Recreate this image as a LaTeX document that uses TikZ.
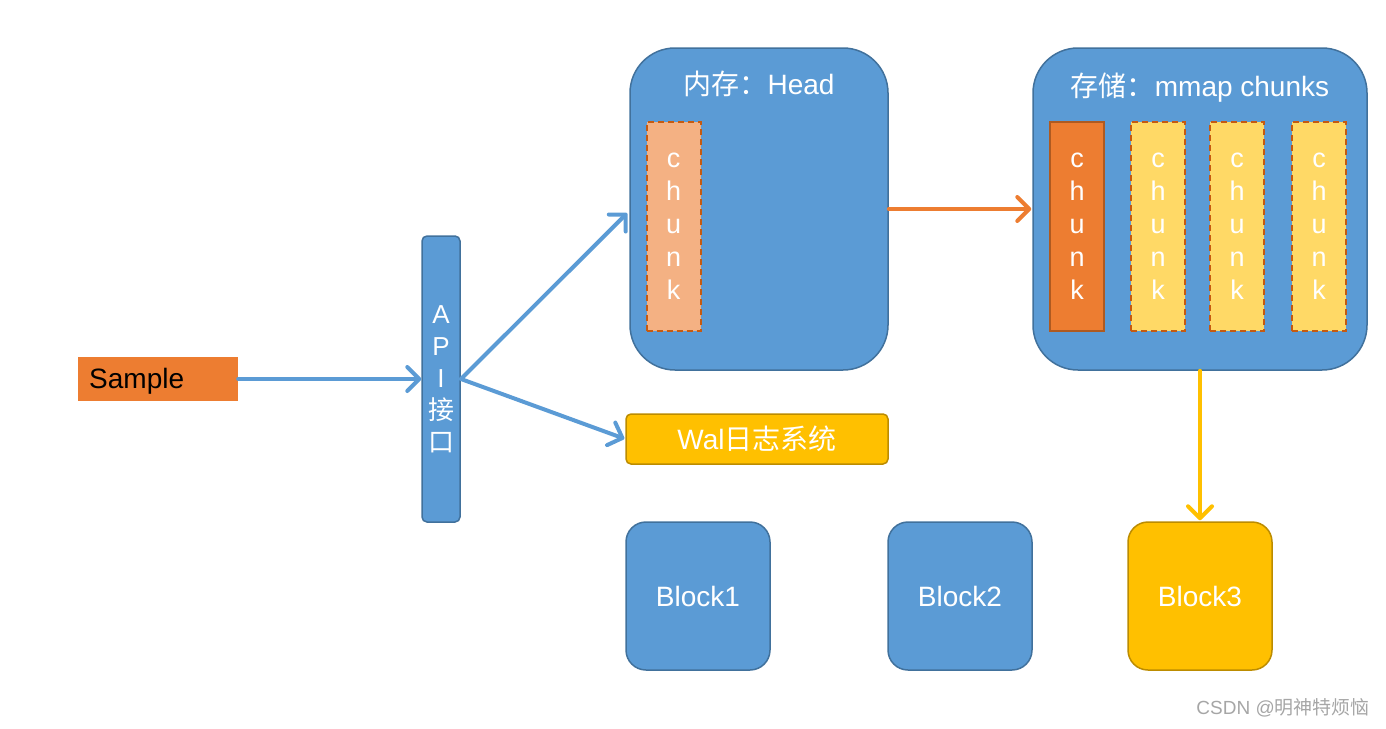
\documentclass[tikz,border=0pt]{standalone}
\usepackage{fontspec}
\setmainfont{Liberation Sans}
\newfontfamily\cjk{Noto Sans CJK SC}
\usetikzlibrary{arrows.meta}
\definecolor{bfill}{HTML}{5B9BD5}
\definecolor{bline}{HTML}{41719C}
\definecolor{ofill}{HTML}{ED7D31}
\definecolor{oline}{HTML}{AE5A21}
\definecolor{lofill}{HTML}{F4B183}
\definecolor{dline}{HTML}{C55A11}
\definecolor{yfill}{HTML}{FFD966}
\definecolor{gfill}{HTML}{FFC000}
\definecolor{gline}{HTML}{BC8C00}
\definecolor{wm}{HTML}{A6A6A6}
\tikzset{
  box/.style={draw=bline, fill=bfill, line width=1.5pt, inner sep=0pt, text=white},
  bigbox/.style={box, rounded corners=45pt},
  blockbox/.style={box, rounded corners=20pt, minimum width=144pt, minimum height=148pt, font=\fontsize{28}{32}\selectfont},
  chunkbox/.style={inner sep=0pt, minimum width=54pt, minimum height=209pt, text=white, align=center,
     font=\fontsize{27}{33}\selectfont, line width=2pt},
  dashchunk/.style={chunkbox, draw=dline, dash pattern=on 6pt off 4pt},
  conn/.style={line width=4pt, line cap=round, -{Straight Barb[length=12pt,width=24pt,line width=4pt,round]}},
  titletext/.style={text=white, font=\fontsize{28}{32}\selectfont, inner sep=0pt},
}
\begin{document}
\begin{tikzpicture}[x=1pt,y=-1pt]
\useasboundingbox (0,0) rectangle (1386,728);
% Sample
\node[fill=ofill, minimum width=160pt, minimum height=44pt, inner sep=0pt] (sample) at (158,379) {};
\node[font=\fontsize{28}{32}\selectfont, anchor=west, inner sep=0pt] (sampletext) at (89,381) {Sample};
% API
\node[box, rounded corners=5pt, minimum width=38pt, minimum height=286pt, align=center,
  font=\fontsize{26}{32}\selectfont] (api) at (441,379) {A\\P\\I\\{\cjk 接}\\{\cjk 口}};
% Head
\node[bigbox, minimum width=258pt, minimum height=322pt] (head) at (759,209) {};
\node[titletext] (headtitle) at (759,84) {{\cjk 内存：}Head};
\node[dashchunk, fill=lofill] (hchunk) at (673.5,226.5) {c\\h\\u\\n\\k};
% Storage
\node[bigbox, minimum width=334pt, minimum height=322pt] (store) at (1200,209) {};
\node[titletext] (storetitle) at (1200,88) {{\cjk 存储：}mmap chunks};
\node[chunkbox, fill=ofill, draw=oline] (s1) at (1077,226.5) {c\\h\\u\\n\\k};
\node[dashchunk, fill=yfill] (s2) at (1158,226.5) {c\\h\\u\\n\\k};
\node[dashchunk, fill=yfill] (s3) at (1237,226.5) {c\\h\\u\\n\\k};
\node[dashchunk, fill=yfill] (s4) at (1319,226.5) {c\\h\\u\\n\\k};
% Wal
\node[draw=gline, fill=gfill, line width=1.5pt, rounded corners=5pt, minimum width=262pt, minimum height=50pt,
  inner sep=0pt, text=white, font=\fontsize{28}{32}\selectfont] (wal) at (757,439) {Wal{\cjk 日志系统}};
% Blocks
\node[blockbox] (b1) at (698,596) {Block1};
\node[blockbox] (b2) at (960,596) {Block2};
\node[blockbox, draw=gline, fill=gfill] (b3) at (1200,596) {Block3};
% connectors
\draw[conn, draw=bfill] (sample.east) -- (api.west);
\coordinate (apiout) at (461,379);
\draw[conn, draw=bfill, shorten >=3pt] (apiout) -- (head.west |- 0,211);
\draw[conn, draw=bfill, shorten >=1pt] (apiout) -- (wal.west);
\draw[conn, draw=ofill, shorten >=1pt] (head.east |- 0,209) -- (store.west |- 0,209);
\draw[conn, draw=gfill, shorten >=1pt] (store.south) -- (b3.north);
% watermark
\node[text=wm, font=\fontsize{19}{21}\selectfont, anchor=east, inner sep=0pt] (mark) at (1370,708) {CSDN @{\cjk 明神特烦恼}};
\end{tikzpicture}
\end{document}
